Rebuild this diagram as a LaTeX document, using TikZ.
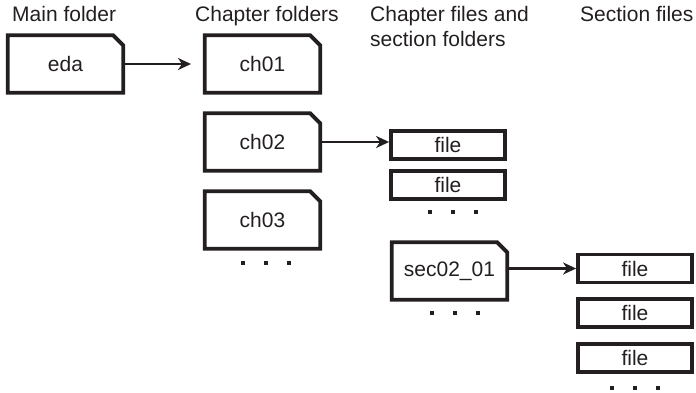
\documentclass[tikz,border=0pt]{standalone}
\usepackage{fontspec}
\setmainfont{Liberation Sans}
\usetikzlibrary{arrows.meta}
\definecolor{ink}{RGB}{35,31,32}
\begin{document}
\begin{tikzpicture}[x=1pt,y=-1pt,
  every node/.style={font=\fontsize{21}{25}\selectfont, inner sep=0pt, text=ink},
  folder/.style={minimum width=115pt, minimum height=57pt},
  filebox/.style={draw=ink, line width=3.8pt, minimum width=114pt, minimum height=28pt},
  outline/.style={draw=ink, line width=3.8pt, line join=miter},
  link/.style={draw=ink, line width=2.8pt, -{Stealth[length=13pt,width=12pt,inset=4pt]}},
  heading/.style={anchor=base west, align=left},
  dotmark/.style={fill=ink, minimum size=4.5pt}
]
\useasboundingbox (0,0) rectangle (696,393);

% column headings
\node[heading] (h1) at (12,22) {Main folder};
\node[heading] (h2) at (195,22) {Chapter folders};
\node[heading] (h3) at (370,22) {Chapter files and};
\node[heading] (h3b) at (370,47) {section folders};
\node[heading] (h4) at (580,22) {Section files};

% folders (drawn below with a clipped corner)
\node[folder] (eda)  at (65.5,64)  {eda};
\node[folder] (ch01) at (262.5,64) {ch01};
\node[folder] (ch02) at (262.5,142) {ch02};
\node[folder] (ch03) at (262.5,220) {ch03};
\node[folder] (sec)  at (449.5,271) {sec02\_01};

\foreach \n in {eda,ch01,ch02,ch03,sec}
  \draw[outline] (\n.south west) -- (\n.north west) -- ([xshift=-10pt]\n.north east)
    -- ([yshift=-10pt]\n.north east) -- (\n.south east) -- cycle;

% files
\node[filebox] (f1) at (448,145) {file};
\node[filebox] (f2) at (448,185) {file};
\node[filebox] (s1) at (635,268.5) {file};
\node[filebox] (s2) at (635,313) {file};
\node[filebox] (s3) at (635,358) {file};

% links
\draw[link] (eda.east) -- (ch01.west -| 191,0);
\draw[link] (ch02.east) -- (f1.west |- ch02.east);
\draw[link] (sec.east |- s1.west) -- (s1.west);

% continuation dots
\foreach \x/\y [count=\i] in {243/263,266/263,289/263,
                            430/212,453/212,476/212,
                            432/313,455/313,478/313,
                            612/388,635/388,658/388}
  \node[dotmark] (dot\i) at (\x,\y) {};
\end{tikzpicture}
\end{document}
